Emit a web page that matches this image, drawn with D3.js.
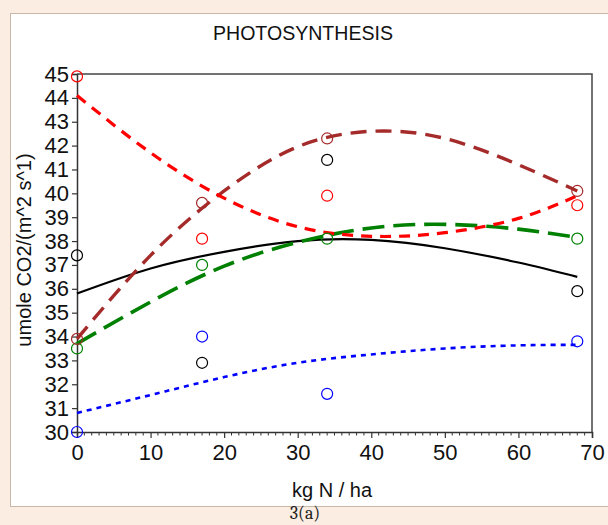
<!DOCTYPE html>
<html>
<head>
<meta charset="utf-8">
<script src="https://cdn.jsdelivr.net/npm/d3@7"></script>
<style>
  html, body { margin: 0; padding: 0; background: #fbede2; }
  svg { display: block; }
</style>
</head>
<body>
<svg id="chart" width="608" height="525"></svg>
<script>
// Nitrogen rates (kg N / ha) at which photosynthesis was measured
const doses = [0, 17, 34, 68];

// Measured photosynthesis (umole CO2 / (m^2 s)) per treatment
const obsRed   = [44.9, 38.1, 39.9, 39.5];
const obsBrown = [33.9, 39.6, 42.3, 40.1];
const obsBlack = [37.4, 32.9, 41.4, 35.9];
const obsGreen = [33.5, 37.0, 38.1, 38.1];
const obsBlue  = [30.0, 34.0, 31.6, 33.8];

// Fitted response curves, sampled along the nitrogen axis
const fitX     = [0, 10, 20, 30, 40, 50, 60, 68];
const fitRed   = [44.1, 41.7, 39.8, 38.6, 38.2, 38.35, 38.95, 39.9];
const fitBrown = [33.9, 37.4, 40.1, 41.95, 42.6, 42.3, 41.2, 40.1];
const fitBlack = [35.8, 36.85, 37.55, 38.0, 38.05, 37.7, 37.1, 36.5];
const fitGreen = [33.7, 35.45, 36.95, 37.95, 38.55, 38.7, 38.5, 38.15];
const fitBlue  = [30.8, 31.55, 32.3, 32.9, 33.25, 33.5, 33.63, 33.65];

// Axis ticks
const xTicks = [0, 10, 20, 30, 40, 50, 60, 70];
const xMinorTicks = d3.range(0, 71, 1);
const yTicks = d3.range(30, 46, 1);

const series = [
  { obs: obsBlack, fit: fitBlack, color: "#000000", width: 2.2, dash: null },
  { obs: obsBlue,  fit: fitBlue,  color: "#0000ff", width: 2.6, dash: "5,5" },
  { obs: obsGreen, fit: fitGreen, color: "#008000", width: 3.6, dash: "22,9" },
  { obs: obsBrown, fit: fitBrown, color: "#a52a2a", width: 3.4, dash: "16,9" },
  { obs: obsRed,   fit: fitRed,   color: "#ff0000", width: 3.2, dash: "11,8" }
];

const svg = d3.select("#chart");

// Page panel
svg.append("rect")
  .attr("x", 10.5).attr("y", 13.5)
  .attr("width", 620).attr("height", 493)
  .attr("fill", "#ffffff").attr("stroke", "#c8b8aa").attr("stroke-width", 1);

const x = d3.scaleLinear().domain([0, 70]).range([77, 592]);
const y = d3.scaleLinear().domain([30, 45]).range([432, 74]);

const sans = "Arial, 'Liberation Sans', sans-serif";
const narrow = "'Liberation Sans Narrow', 'Arial Narrow', Arial, sans-serif";

// Title
svg.append("text")
  .attr("x", 303).attr("y", 40)
  .attr("text-anchor", "middle")
  .attr("font-family", sans).attr("font-size", 20)
  .attr("fill", "#111111")
  .attr("textLength", 180).attr("lengthAdjust", "spacingAndGlyphs")
  .text("PHOTOSYNTHESIS");

// Minor x ticks
svg.append("g")
  .selectAll("line")
  .data(xMinorTicks.filter(v => v % 10 !== 0))
  .join("line")
  .attr("x1", d => x(d)).attr("x2", d => x(d))
  .attr("y1", 432).attr("y2", 435.5)
  .attr("stroke", "#333").attr("stroke-width", 1);

// X axis
const xAxis = svg.append("g")
  .attr("transform", "translate(0,432)")
  .call(d3.axisBottom(x).tickValues(xTicks).tickSize(6).tickPadding(6).tickFormat(d3.format("d")));
xAxis.select(".domain").attr("stroke", "#333").attr("stroke-width", 1.5);
xAxis.selectAll(".tick line").attr("stroke", "#333").attr("stroke-width", 1.2);
xAxis.selectAll(".tick text")
  .attr("font-family", narrow).attr("font-size", 22).attr("fill", "#111");

// Y axis
const yAxis = svg.append("g")
  .attr("transform", "translate(77,0)")
  .call(d3.axisLeft(y).tickValues(yTicks).tickSize(5).tickPadding(3).tickFormat(d3.format("d")));
yAxis.select(".domain").attr("stroke", "#333").attr("stroke-width", 1.5);
yAxis.selectAll(".tick line").attr("stroke", "#333").attr("stroke-width", 1.2);
yAxis.selectAll(".tick text")
  .attr("font-family", narrow).attr("font-size", 22).attr("fill", "#111");

// Frame top and right
svg.append("path")
  .attr("d", `M${x(0)},${y(45)}H${x(70)}V${y(30)}`)
  .attr("fill", "none").attr("stroke", "#444").attr("stroke-width", 1.5);

// Axis titles
svg.append("text")
  .attr("x", 332).attr("y", 497)
  .attr("text-anchor", "middle")
  .attr("font-family", sans).attr("font-size", 20).attr("fill", "#111")
  .text("kg N / ha");

svg.append("text")
  .attr("transform", "translate(31,250) rotate(-90)")
  .attr("text-anchor", "middle")
  .attr("font-family", sans).attr("font-size", 20).attr("fill", "#111")
  .text("umole CO2/(m^2 s^1)");

// Fitted curves
const line = d3.line()
  .x(d => x(d[0]))
  .y(d => y(d[1]))
  .curve(d3.curveNatural);

const plot = svg.append("g");

series.forEach(s => {
  plot.append("path")
    .datum(fitX.map((v, i) => [v, s.fit[i]]))
    .attr("d", line)
    .attr("fill", "none")
    .attr("stroke", s.color)
    .attr("stroke-width", s.width)
    .attr("stroke-dasharray", s.dash);
});

// Observed points
series.forEach(s => {
  plot.append("g")
    .selectAll("circle")
    .data(doses.map((v, i) => [v, s.obs[i]]))
    .join("circle")
    .attr("cx", d => x(d[0]))
    .attr("cy", d => y(d[1]))
    .attr("r", 5.5)
    .attr("fill", "none")
    .attr("stroke", s.color)
    .attr("stroke-width", 1.2);
});

// Figure caption
svg.append("text")
  .attr("x", 305).attr("y", 519)
  .attr("text-anchor", "middle")
  .attr("font-family", "Cambria, 'Liberation Serif', serif")
  .attr("font-size", 18).attr("fill", "#222")
  .text("3(a)");
</script>
</body>
</html>
